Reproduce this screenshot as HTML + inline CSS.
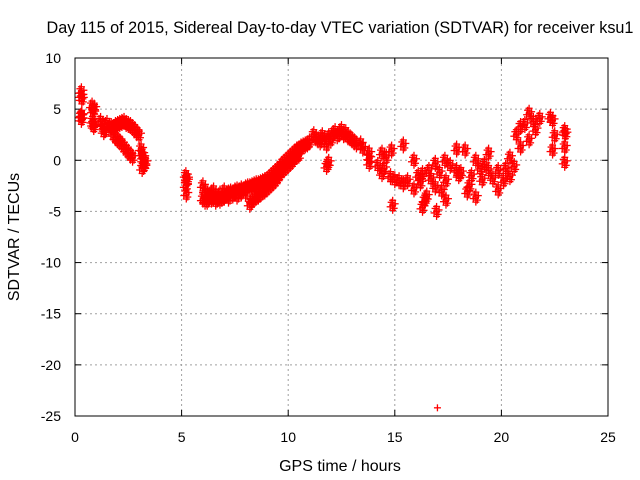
<!DOCTYPE html>
<html><head><meta charset="utf-8"><style>
body{margin:0;background:#fff}
svg{display:block;font-family:"Liberation Sans",sans-serif}
</style></head><body>
<svg id="c" width="640" height="480">
<text x="340" y="33" font-size="16.2" text-anchor="middle">Day 115 of 2015, Sidereal Day-to-day VTEC variation (SDTVAR) for receiver ksu1</text>
<text x="340" y="471" font-size="16" text-anchor="middle">GPS time / hours</text>
<text transform="translate(19,237) rotate(-90)" font-size="16" text-anchor="middle">SDTVAR / TECUs</text>
<g id="grid"></g><g id="pts"></g>
<rect x="75" y="58" width="533" height="358" fill="none" stroke="#000" stroke-width="1"/>
</svg>
<script>
const xTicks=[0,5,10,15,20,25];
const yTicks=[10,5,0,-5,-10,-15,-20,-25];
const times=[0.3,0.3,0.32,0.28,0.3,0.32,0.8,0.85,0.9,0.82,0.88,0.85,1.2,1.3,1.4,1.5,1.35,1.6,1.7,1.8,1.9,2.0,2.1,2.2,2.3,2.4,2.5,2.6,2.7,2.8,2.9,3.0,1.8,1.9,2.0,2.1,2.2,2.3,2.4,2.5,2.6,2.7,3.1,3.15,3.2,3.25,3.3,3.2,3.15,
5.2,5.25,5.2,5.22,5.25,
6.0,6.0,6.1,6.1,6.2,6.3,6.4,6.5,6.5,6.6,6.7,6.8,6.9,7.0,7.0,7.1,7.2,7.3,7.4,7.5,7.6,7.7,7.8,7.9,8.0,8.1,8.2,8.3,8.4,8.5,8.6,8.7,8.8,8.9,9.0,9.1,9.2,9.3,9.4,9.5,9.6,9.7,9.8,9.9,10.0,10.1,10.2,10.3,10.4,10.5,10.6,10.7,10.8,10.9,11.0,
6.2,6.4,6.6,6.8,7.0,7.2,7.4,7.6,7.8,8.0,
8.2,8.3,8.4,8.5,8.6,8.7,8.8,8.9,9.0,9.1,9.2,9.3,9.4,9.5,9.6,9.7,9.8,9.9,10.0,10.1,10.2,10.3,10.4,10.5,
11.2,11.3,11.4,11.5,11.6,11.7,11.8,11.9,12.0,12.1,12.2,12.3,12.4,12.5,12.6,12.7,12.8,12.9,13.0,13.1,13.2,11.8,11.9,
13.4,13.5,13.8,13.8,13.8,14.4,14.4,14.5,14.85,14.8,14.9,15.4,15.4,15.9,15.9,16.3,16.4,16.3,16.9,16.9,16.96,17.35,17.4,17.4,17.9,17.9,18.3,18.4,18.8,18.8,19.4,19.4,19.85,19.85,20.4,20.4,20.9,20.9,21.3,21.3,21.8,21.6,22.4,22.4,22.97,22.97,22.97,
14.2,14.6,15.0,15.2,15.6,16.1,16.6,16.5,17.1,17.6,18.1,18.6,19.0,19.2,19.6,20.1,20.6,20.7,21.1,21.5,22.3,22.5,23.0,16.2,16.7,17.2,18.0,18.5,19.1,20.2,
17.0];
const values=[6.7,6.3,6.0,4.3,4.0,4.4,5.3,4.8,5.1,3.8,3.3,3.5,3.8,3.5,3.0,3.6,2.8,3.2,3.3,3.2,3.4,3.5,3.6,3.7,3.8,3.6,3.5,3.4,3.2,3.0,2.7,2.5,2.5,2.2,2.0,1.8,1.6,1.3,1.0,0.8,0.5,0.3,1.1,0.6,0.0,-0.5,-0.2,0.3,-0.8,
-1.5,-2.0,-2.5,-3.3,-1.8,
-2.5,-3.8,-3.0,-4.0,-3.3,-3.6,-3.2,-3.7,-3.0,-3.5,-3.6,-3.3,-3.7,-3.6,-3.0,-3.3,-3.2,-3.1,-3.2,-3.0,-2.9,-3.0,-2.8,-2.9,-2.7,-2.6,-2.6,-2.5,-2.4,-2.3,-2.3,-2.2,-2.1,-2.0,-1.9,-1.7,-1.5,-1.3,-1.1,-0.9,-0.7,-0.4,-0.2,0.0,0.2,0.4,0.6,0.8,1.0,1.1,1.3,1.4,1.5,1.6,1.8,
-4.0,-3.8,-4.0,-3.9,-3.6,-3.7,-3.4,-3.5,-3.2,-3.2,
-4.3,-4.0,-3.8,-3.6,-3.5,-3.3,-3.1,-3.0,-2.8,-2.6,-2.4,-2.2,-2.0,-1.7,-1.4,-1.1,-0.9,-0.7,-0.5,-0.3,-0.1,0.2,0.4,0.5,
2.5,2.2,2.0,1.8,2.4,2.1,1.5,2.3,2.0,2.6,2.8,2.4,2.6,3.0,2.5,2.7,2.3,2.2,2.0,1.8,1.6,-0.6,-0.2,
1.6,1.2,0.7,-0.3,0.2,0.7,-1.3,-0.8,1.0,-1.6,-4.4,1.5,-2.3,0.0,-2.8,-1.3,-3.9,-4.6,-2.6,-0.3,-5.0,0.0,-2.0,-3.9,1.1,-1.0,1.0,-3.1,0.0,-3.6,0.7,-1.0,-1.0,-2.9,0.3,-1.6,3.3,1.3,4.6,2.0,4.1,3.0,3.9,1.0,2.9,1.3,-0.2,
-0.5,0.3,-1.9,-2.0,-2.0,-1.5,-1.0,-3.5,-1.2,-0.5,-1.2,-1.5,-0.8,-0.4,-1.8,-2.0,-0.6,2.5,3.5,3.8,4.2,2.4,2.6,-2.2,-1.8,-3.0,-1.5,-2.5,-1.9,-0.8,
-24.2];
const NS='http://www.w3.org/2000/svg';
const X0=75,X1=608,Y0=416,Y1=58;
function xs(t){return X0+(t-0)/(25-0)*(X1-X0);}
function ys(v){return Y0-(v-(-25))/(10-(-25))*(Y0-Y1);}
const svg=document.getElementById('c'),grid=document.getElementById('grid'),pts=document.getElementById('pts');
function mk(tag,at,par){const e=document.createElementNS(NS,tag);for(const k in at)e.setAttribute(k,at[k]);par.appendChild(e);return e;}
xTicks.forEach(t=>{
  const x=xs(t);
  if(t>0&&t<25){const g=mk('line',{x1:x,x2:x,y1:Y0,y2:Y1,stroke:'#a0a0a0','stroke-dasharray':'2,3'},grid);
  
  }
  mk('line',{x1:x,x2:x,y1:Y0,y2:Y0-6,stroke:'#000'},grid);
  mk('line',{x1:x,x2:x,y1:Y1,y2:Y1+6,stroke:'#000'},grid);
  const l=mk('text',{x:x,y:442,'font-size':14,'text-anchor':'middle'},svg);
  l.textContent=t;
  
  
});
yTicks.forEach(v=>{
  const y=ys(v);
  if(v>-25&&v<10){const g=mk('line',{x1:X0,x2:X1,y1:y,y2:y,stroke:'#a0a0a0','stroke-dasharray':'2,3'},grid);
  
  }
  mk('line',{x1:X0,x2:X0+6,y1:y,y2:y,stroke:'#000'},grid);
  mk('line',{x1:X1,x2:X1-6,y1:y,y2:y,stroke:'#000'},grid);
  const l=mk('text',{x:61,y:y+5,'font-size':14,'text-anchor':'end'},svg);
  l.textContent=v;
  
  
});
const offs=[[0,0],[1.5,3],[-1.5,-3],[2.5,-1.5],[-2.5,1.5],[0,5],[0,-5]];
times.forEach((t,i)=>{
  const x=xs(t),y=ys(values[i]);
  const g=mk('g',{stroke:'#ff0000','stroke-width':1.3},pts);
  
  
  const list=(i===times.length-1)?[[0,0]]:offs;
  list.forEach(o=>{
    mk('line',{x1:x+o[0]-3.5,x2:x+o[0]+3.5,y1:y+o[1],y2:y+o[1]},g);
    mk('line',{x1:x+o[0],x2:x+o[0],y1:y+o[1]-3.5,y2:y+o[1]+3.5},g);
  });
});
</script>
</body></html>
